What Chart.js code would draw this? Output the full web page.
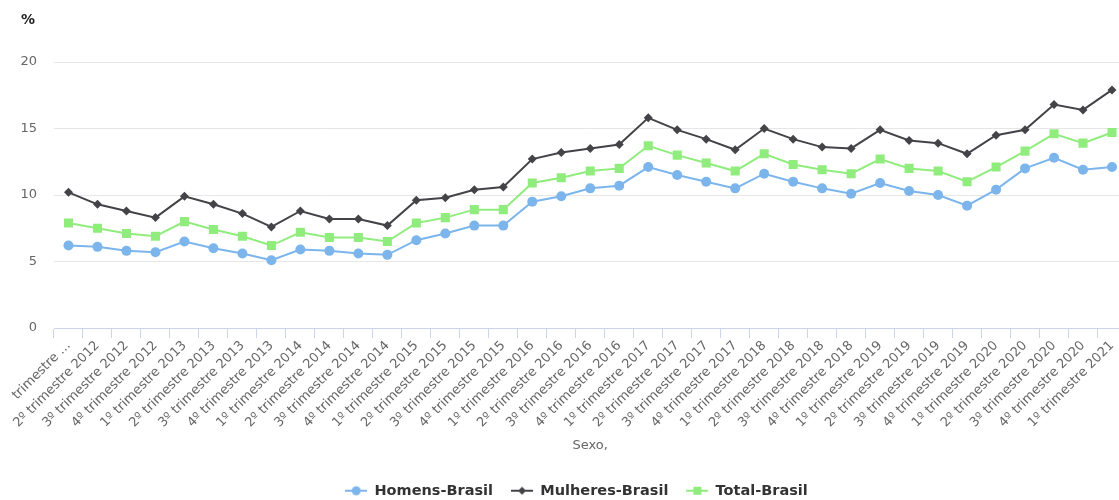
<!DOCTYPE html>
<html>
<head>
<meta charset="utf-8">
<script src="https://cdn.jsdelivr.net/npm/chart.js@4"></script>
<style>
  html, body { margin: 0; padding: 0; background: #ffffff; overflow: hidden; }
  #wrap { position: relative; width: 1153px; height: 500px; }
</style>
</head>
<body>
<div id="wrap"><canvas id="chart"></canvas></div>
<script>
// Quarterly rate (%) by sex, Brazil
const categories = [
  "1º trimestre 2012", "2º trimestre 2012", "3º trimestre 2012", "4º trimestre 2012",
  "1º trimestre 2013", "2º trimestre 2013", "3º trimestre 2013", "4º trimestre 2013",
  "1º trimestre 2014", "2º trimestre 2014", "3º trimestre 2014", "4º trimestre 2014",
  "1º trimestre 2015", "2º trimestre 2015", "3º trimestre 2015", "4º trimestre 2015",
  "1º trimestre 2016", "2º trimestre 2016", "3º trimestre 2016", "4º trimestre 2016",
  "1º trimestre 2017", "2º trimestre 2017", "3º trimestre 2017", "4º trimestre 2017",
  "1º trimestre 2018", "2º trimestre 2018", "3º trimestre 2018", "4º trimestre 2018",
  "1º trimestre 2019", "2º trimestre 2019", "3º trimestre 2019", "4º trimestre 2019",
  "1º trimestre 2020", "2º trimestre 2020", "3º trimestre 2020", "4º trimestre 2020",
  "1º trimestre 2021"
];

const homensBrasil = [
  6.2, 6.1, 5.8, 5.7, 6.5, 6.0, 5.6, 5.1, 5.9, 5.8, 5.6, 5.5,
  6.6, 7.1, 7.7, 7.7, 9.5, 9.9, 10.5, 10.7, 12.1, 11.5, 11.0, 10.5,
  11.6, 11.0, 10.5, 10.1, 10.9, 10.3, 10.0, 9.2, 10.4, 12.0, 12.8, 11.9,
  12.1
];

const mulheresBrasil = [
  10.2, 9.3, 8.8, 8.3, 9.9, 9.3, 8.6, 7.6, 8.8, 8.2, 8.2, 7.7,
  9.6, 9.8, 10.4, 10.6, 12.7, 13.2, 13.5, 13.8, 15.8, 14.9, 14.2, 13.4,
  15.0, 14.2, 13.6, 13.5, 14.9, 14.1, 13.9, 13.1, 14.5, 14.9, 16.8, 16.4,
  17.9
];

const totalBrasil = [
  7.9, 7.5, 7.1, 6.9, 8.0, 7.4, 6.9, 6.2, 7.2, 6.8, 6.8, 6.5,
  7.9, 8.3, 8.9, 8.9, 10.9, 11.3, 11.8, 12.0, 13.7, 13.0, 12.4, 11.8,
  13.1, 12.3, 11.9, 11.6, 12.7, 12.0, 11.8, 11.0, 12.1, 13.3, 14.6, 13.9,
  14.7
];

const yTicks = [0, 5, 10, 15, 20];

const FONT = "'DejaVu Sans', 'Liberation Sans', sans-serif";

// Legend symbol: short line with the series marker in the middle
function legendSymbol(color, shape) {
  const c = document.createElement('canvas');
  c.width = 22; c.height = 12;
  const g = c.getContext('2d');
  g.strokeStyle = color; g.lineWidth = 2;
  g.beginPath(); g.moveTo(0, 6); g.lineTo(22, 6); g.stroke();
  g.fillStyle = color;
  g.beginPath();
  if (shape === 'circle') { g.arc(11, 6, 4.5, 0, Math.PI * 2); }
  else if (shape === 'diamond') { g.moveTo(11, 2); g.lineTo(15, 6); g.lineTo(11, 10); g.lineTo(7, 6); g.closePath(); }
  else { g.rect(7, 2, 8, 8); }
  g.fill();
  return c;
}

const series = [
  { label: 'Homens-Brasil', data: homensBrasil, color: '#7cb5ec', style: 'circle', radius: 5, shape: 'circle' },
  { label: 'Mulheres-Brasil', data: mulheresBrasil, color: '#434348', style: 'rectRot', radius: 4.5, shape: 'diamond' },
  { label: 'Total-Brasil', data: totalBrasil, color: '#90ed7d', style: 'rect', radius: 6.4, shape: 'square' }
];

// Unit label drawn above the value axis
const unitLabel = {
  id: 'unitLabel',
  afterDraw(chart) {
    const ctx = chart.ctx;
    ctx.save();
    ctx.font = 'bold 14px ' + FONT;
    ctx.fillStyle = '#222222';
    ctx.textAlign = 'left';
    ctx.textBaseline = 'middle';
    ctx.fillText('%', 21, 20);
    ctx.restore();
  }
};

// Center the legend on the full canvas width rather than the padded area
const legendCenter = {
  id: 'legendCenter',
  afterLayout(chart) {
    const lg = chart.legend;
    if (!lg) return;
    const shift = chart.width / 2 - (lg.left + lg.right) / 2;
    lg.left += shift;
    lg.right += shift;
  }
};

new Chart(document.getElementById('chart'), {
  type: 'line',
  data: {
    labels: categories,
    datasets: series.map(s => ({
      label: s.label,
      data: s.data,
      borderColor: s.color,
      backgroundColor: s.color,
      borderWidth: 2,
      tension: 0,
      pointStyle: s.style,
      pointRadius: s.radius,
      pointHoverRadius: s.radius,
      pointBorderWidth: 0,
      fill: false,
      legendSymbol: legendSymbol(s.color, s.shape)
    }))
  },
  options: {
    responsive: true,
    maintainAspectRatio: false,
    animation: false,
    layout: { padding: { top: 62, right: 26.5, left: 0, bottom: -8 } },
    plugins: {
      tooltip: { enabled: false },
      title: { display: false },
      legend: {
        position: 'bottom',
        labels: {
          usePointStyle: true,
          pointStyleWidth: 22,
          boxHeight: 12,
          padding: 18,
          color: '#333333',
          font: { family: FONT, size: 14.5, weight: 'bold' },
          generateLabels(chart) {
            return chart.data.datasets.map((ds, i) => ({
              text: ds.label,
              fillStyle: ds.borderColor,
              strokeStyle: ds.borderColor,
              fontColor: '#333333',
              pointStyle: ds.legendSymbol,
              lineWidth: 0,
              hidden: !chart.isDatasetVisible(i),
              datasetIndex: i
            }));
          }
        }
      }
    },
    scales: {
      x: {
        offset: true,
        afterFit(scale) {
          scale.height = 137.5;
          scale.paddingLeft = 0;
          scale.paddingRight = 0;
        },
        grid: {
          display: true,
          offset: true,
          drawOnChartArea: false,
          drawTicks: true,
          tickLength: 10,
          color: '#ccd6eb'
        },
        border: { display: true, color: '#ccd6eb', width: 1 },
        ticks: {
          autoSkip: false,
          minRotation: 45,
          maxRotation: 45,
          padding: 0,
          color: '#666666',
          font: { family: FONT, size: 13 },
          callback(value, index) {
            return index === 0 ? 'trimestre ...' : this.getLabelForValue(value);
          }
        },
        title: {
          display: true,
          text: 'Sexo,',
          color: '#666666',
          font: { family: FONT, size: 13 },
          padding: { top: 4, bottom: 12 }
        }
      },
      y: {
        min: 0,
        max: 20,
        afterFit(scale) { scale.width = 54; },
        afterBuildTicks(scale) { scale.ticks = yTicks.map(v => ({ value: v })); },
        grid: { color: '#e6e6e6', drawTicks: false, lineWidth: 1 },
        border: { display: false },
        ticks: {
          padding: 17,
          color: '#666666',
          font: { family: FONT, size: 13 }
        }
      }
    }
  },
  plugins: [unitLabel, legendCenter]
});
</script>
</body>
</html>
